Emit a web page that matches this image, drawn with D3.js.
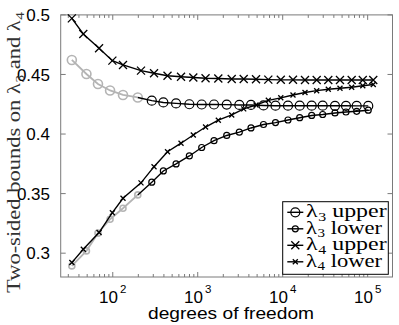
<!DOCTYPE html>
<html><head><meta charset="utf-8">
<script src="https://cdn.jsdelivr.net/npm/d3@7"></script>
<style>body{margin:0;background:#fff}svg{display:block}</style>
</head><body>
<svg id="c" width="399" height="325"></svg>
<script>
// ---- data ----
const dofL3 = [33, 49, 67, 93, 132, 197, 288, 394, 556, 797, 1114, 1555, 2194, 3086, 4237, 5943, 8228, 11543, 15849, 21938, 29549, 41238, 55555, 74243, 101600];
const dofL4 = [33, 45, 69, 99, 132, 215, 306, 441, 636, 887, 1236, 1747, 2512, 3477, 4853, 6771, 9497, 13219, 18297, 25119, 34400, 47220, 64830, 87600, 116400];
const lam3Upper = [0.4622, 0.4504, 0.4420, 0.4366, 0.4328, 0.4307, 0.4280, 0.4265, 0.4257, 0.4250, 0.4248, 0.4248, 0.4247, 0.4244, 0.4244, 0.4240, 0.4238, 0.4238, 0.4238, 0.4238, 0.4238, 0.4237, 0.4237, 0.4236, 0.4236];
const lam3Lower = [0.2893, 0.3019, 0.3168, 0.3285, 0.3377, 0.3489, 0.3596, 0.3690, 0.3749, 0.3816, 0.3887, 0.3944, 0.3988, 0.4016, 0.4051, 0.4080, 0.4096, 0.4118, 0.4137, 0.4156, 0.4164, 0.4177, 0.4185, 0.4191, 0.4200];
const lam4Upper = [0.4971, 0.4840, 0.4720, 0.4616, 0.4580, 0.4532, 0.4510, 0.4489, 0.4481, 0.4475, 0.4468, 0.4466, 0.4462, 0.4462, 0.4460, 0.4457, 0.4455, 0.4455, 0.4454, 0.4454, 0.4454, 0.4454, 0.4454, 0.4454, 0.4454];
const lam4Lower = [0.2921, 0.3033, 0.3173, 0.3340, 0.3461, 0.3590, 0.3726, 0.3852, 0.3923, 0.3992, 0.4059, 0.4116, 0.4160, 0.4211, 0.4244, 0.4283, 0.4304, 0.4328, 0.4349, 0.4364, 0.4376, 0.4384, 0.4393, 0.4405, 0.4416];
const grayCount = 6; // first points of the λ3 series drawn in grey
const yTicks = [0.3, 0.35, 0.4, 0.45, 0.5];
const yTickLabels = ["0.3", "0.35", "0.4", "0.45", "0.5"];
const xTicks = [100, 1000, 10000, 100000];
const xTickExp = ["2", "3", "4", "5"];
const legendItems = [
  {sub: "3", word: "upper", marker: "circle", size: 4.5},
  {sub: "3", word: "lower", marker: "circle", size: 3},
  {sub: "4", word: "upper", marker: "cross", size: 4},
  {sub: "4", word: "lower", marker: "cross", size: 2.5}
];

// ---- layout ----
const L = 60.7, R = 392.5, T = 14.9, B = 277;
const svg = d3.select("#c");
const x = d3.scaleLog().domain([24.4, 196000]).range([L, R]);
const y = d3.scaleLinear().domain([0.28, 0.5]).range([B, T]);
const axisCol = "#7a7a7a";
const grey = "#b4b4b4";

// scale a text horizontally so that it spans a given width
function fitWidth(sel, width, base) {
  const w = sel.node().getComputedTextLength();
  sel.attr("transform", base + ` scale(${width / w},1)`);
}

// ticks (inward) on all four sides
const minor = x.ticks().filter(v => xTicks.indexOf(v) < 0);
const tg = svg.append("g").attr("stroke", axisCol).attr("stroke-width", 1);
minor.forEach(v => {
  const px = x(v);
  tg.append("line").attr("x1", px).attr("x2", px).attr("y1", B).attr("y2", B - 3);
  tg.append("line").attr("x1", px).attr("x2", px).attr("y1", T).attr("y2", T + 3);
});
xTicks.forEach(v => {
  const px = x(v);
  tg.append("line").attr("x1", px).attr("x2", px).attr("y1", B).attr("y2", B - 5);
  tg.append("line").attr("x1", px).attr("x2", px).attr("y1", T).attr("y2", T + 5);
});
yTicks.forEach(v => {
  const py = y(v);
  tg.append("line").attr("x1", L).attr("x2", L + 5).attr("y1", py).attr("y2", py);
  tg.append("line").attr("x1", R).attr("x2", R - 5).attr("y1", py).attr("y2", py);
});
svg.append("rect").attr("x", L).attr("y", T).attr("width", R - L).attr("height", B - T)
  .attr("fill", "none").attr("stroke", axisCol).attr("stroke-width", 1);

// tick labels
const sans = "'Liberation Sans', Arial, Helvetica, sans-serif";
yTicks.forEach((v, i) => {
  svg.append("text").attr("x", 50).attr("y", y(v)).attr("dy", "0.36em")
    .attr("text-anchor", "end").attr("font-family", sans).attr("font-size", 17)
    .attr("fill", "#000").text(yTickLabels[i]);
});
xTicks.forEach((v, i) => {
  const t = svg.append("text").attr("x", x(v)).attr("y", 302.8).attr("text-anchor", "middle")
    .attr("font-family", sans).attr("font-size", 17).attr("fill", "#000");
  t.append("tspan").text("10");
  t.append("tspan").attr("dy", -9.5).attr("dx", 2).attr("font-size", 11.5).text(xTickExp[i]);
});
const xl = svg.append("text").attr("x", 0).attr("y", 0).attr("text-anchor", "middle")
  .attr("font-family", sans).attr("font-size", 17).attr("fill", "#000").text("degrees of freedom");
fitWidth(xl, 166, "translate(231,319.3)");

// y label
const serif = "'Liberation Serif', 'DejaVu Serif', serif";
const yl = svg.append("text").attr("x", 0).attr("y", 0)
  .attr("text-anchor", "middle").attr("font-family", serif).attr("font-size", 19)
  .attr("fill", "#333");
yl.append("tspan").text("Two-sided bounds on λ");
yl.append("tspan").attr("dy", 4).attr("dx", 0.5).attr("font-size", 13).text("3");
yl.append("tspan").attr("dy", -4).text(" and λ");
yl.append("tspan").attr("dy", 4).attr("dx", 0.5).attr("font-size", 13).text("4");
fitWidth(yl, 280, "translate(20,152.5) rotate(-90)");

// ---- series ----
const plot = svg.append("g");
const line = d3.line().x(d => x(d[0])).y(d => y(d[1]));
function pts(dof, vals) { return dof.map((d, i) => [d, vals[i]]); }

function drawCircles(g, data, r, col, sw) {
  g.selectAll(null).data(data).enter().append("circle")
    .attr("cx", d => x(d[0])).attr("cy", d => y(d[1])).attr("r", r)
    .attr("fill", "none").attr("stroke", col).attr("stroke-width", sw);
}
function crossPath(cx, cy, s) {
  return `M${cx - s},${cy - s}L${cx + s},${cy + s}M${cx - s},${cy + s}L${cx + s},${cy - s}`;
}
function drawCrosses(g, data, s, col, sw) {
  g.selectAll(null).data(data).enter().append("path")
    .attr("d", d => crossPath(x(d[0]), y(d[1]), s))
    .attr("fill", "none").attr("stroke", col).attr("stroke-width", sw);
}

[[lam3Upper, 4.5], [lam3Lower, 3]].forEach(([vals, r]) => {
  const p = pts(dofL3, vals);
  const gp = p.slice(0, grayCount), bp = p.slice(grayCount - 1);
  plot.append("path").attr("d", line(gp)).attr("fill", "none").attr("stroke", grey).attr("stroke-width", 1.8);
  drawCircles(plot, gp, r, grey, 1.6);
  plot.append("path").attr("d", line(bp)).attr("fill", "none").attr("stroke", "#000").attr("stroke-width", 1.4);
  drawCircles(plot, bp.slice(1), r, "#000", 1.2);
});
[[lam4Upper, 4], [lam4Lower, 2.5]].forEach(([vals, s]) => {
  const p = pts(dofL4, vals);
  plot.append("path").attr("d", line(p)).attr("fill", "none").attr("stroke", "#000").attr("stroke-width", 1.4);
  drawCrosses(plot, p, s, "#000", 1.3);
});

// ---- legend ----
const lg = svg.append("g");
lg.append("rect").attr("x", 282.7).attr("y", 201.7).attr("width", 105.6).attr("height", 72.6)
  .attr("fill", "#fff").attr("stroke", "#000").attr("stroke-width", 1);
legendItems.forEach((it, i) => {
  const cy = 212.3 + i * 16.5;
  lg.append("line").attr("x1", 287.3).attr("x2", 303.3).attr("y1", cy).attr("y2", cy)
    .attr("stroke", "#000").attr("stroke-width", 1.4);
  if (it.marker === "circle") {
    lg.append("circle").attr("cx", 295.3).attr("cy", cy).attr("r", it.size)
      .attr("fill", "none").attr("stroke", "#000").attr("stroke-width", 1.2);
  } else {
    lg.append("path").attr("d", crossPath(295.3, cy, it.size))
      .attr("fill", "none").attr("stroke", "#000").attr("stroke-width", 1.3);
  }
  const t = lg.append("text").attr("x", 0).attr("y", 0).attr("font-family", serif)
    .attr("font-size", 18).attr("fill", "#000");
  t.append("tspan").text("λ");
  t.append("tspan").attr("dy", 3.5).attr("dx", 0.5).attr("font-size", 12).text(it.sub);
  t.append("tspan").attr("dy", -3.5).text(" " + it.word);
  fitWidth(t, it.word === "upper" ? 80 : 75.5, `translate(306,${cy + 5})`);
});
</script>
</body></html>
